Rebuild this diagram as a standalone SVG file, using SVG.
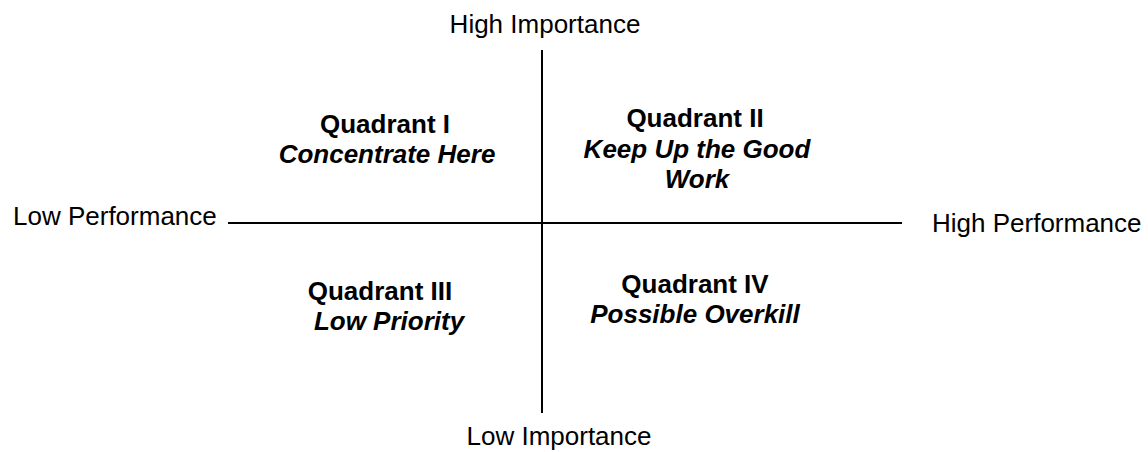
<svg xmlns="http://www.w3.org/2000/svg" width="1148" height="452" viewBox="0 0 1148 452">
<style>
text{font-family:"Liberation Sans",Arial,sans-serif;font-size:26px;fill:#000}
.q{font-weight:bold;text-anchor:middle}
.s{font-weight:bold;font-style:italic;text-anchor:middle}
.ax{stroke:#000;stroke-width:2;fill:none}
</style>
<rect width="1148" height="452" fill="#fff"/>
<g id="connectors">
<line class="ax" x1="228" y1="223" x2="902" y2="223"/>
<line class="ax" x1="542" y1="50" x2="542" y2="413"/>
</g>
<g id="high-importance"><text x="545" y="33" text-anchor="middle">High Importance</text></g>
<g id="low-importance"><text x="559" y="445" text-anchor="middle">Low Importance</text></g>
<g id="low-performance"><text x="13" y="225">Low Performance</text></g>
<g id="high-performance"><text x="932" y="232">High Performance</text></g>
<g id="q1"><text class="q" x="385" y="133">Quadrant I</text><text class="s" x="387" y="163">Concentrate Here</text></g>
<g id="q2"><text class="q" x="695" y="127">Quadrant II</text><text class="s" x="697" y="158">Keep Up the Good</text><text class="s" x="697" y="188">Work</text></g>
<g id="q3"><text class="q" x="380" y="300">Quadrant III</text><text class="s" x="389" y="330">Low Priority</text></g>
<g id="q4"><text class="q" x="695" y="293">Quadrant IV</text><text class="s" x="695" y="323">Possible Overkill</text></g>
</svg>
